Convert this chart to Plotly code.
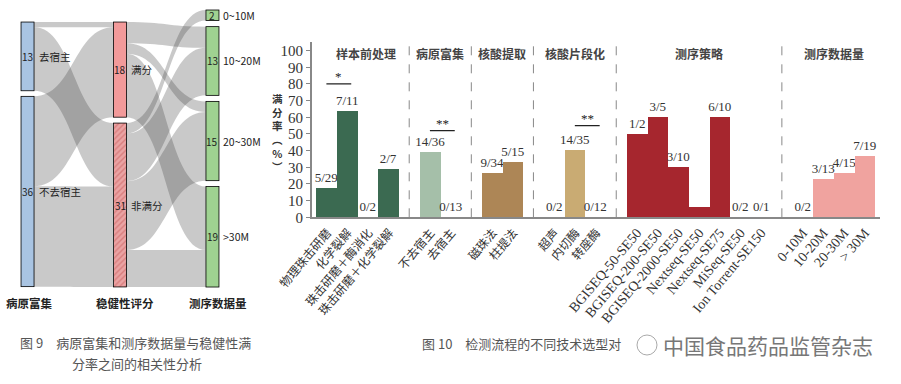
import plotly.graph_objects as go

W, H = 901, 384

# ---------------- Sankey data (Fig. 9) ----------------
sk_labels = ["去宿主", "不去宿主", "满分", "非满分", "0~10M", "10~20M", "20~30M", ">30M"]
sk_counts = [13, 36, 18, 31, 2, 13, 15, 19]
sk_source = [0, 0, 1, 1, 2, 2, 2, 3, 3, 3, 3]
sk_target = [2, 3, 2, 3, 5, 6, 7, 4, 5, 6, 7]
sk_value = [1, 12, 17, 19, 4, 2, 12, 2, 9, 13, 7]
sk_columns = ["病原富集", "稳健性评分", "测序数据量"]

# ---------------- Bar data (Fig. 10) ----------------
bar_groups = ["样本前处理", "病原富集", "核酸提取", "核酸片段化", "测序策略", "测序数据量"]
bar_cats = [
    ["物理珠击研磨", "化学裂解", "珠击研磨＋酶消化", "珠击研磨＋化学裂解"],
    ["不去宿主", "去宿主"],
    ["磁珠法", "柱提法"],
    ["超声", "内切酶", "转座酶"],
    ["BGISEQ-50-SE50", "BGISEQ-200-SE50", "BGISEQ-2000-SE50", "Nextseq-SE50",
     "Nextseq-SE75", "MiSeq-SE50", "Ion Torrent-SE150"],
    ["0-10M", "10-20M", "20-30M", "> 30M"],
]
bar_rates = [
    [17.2, 63.6, 0, 28.6],
    [38.9, 0],
    [26.5, 33.3],
    [0, 40.0, 0],
    [50, 60, 30, 6.3, 60, 0, 0],
    [0, 23.1, 26.7, 36.8],
]
bar_texts = [
    ["5/29", "7/11", "0/2", "2/7"],
    ["14/36", "0/13"],
    ["9/34", "5/15"],
    ["0/2", "14/35", "0/12"],
    ["1/2", "3/5", "3/10", "", "6/10", "0/2", "0/1"],
    ["0/2", "3/13", "4/15", "7/19"],
]
bar_colors = ["#3b6a51", "#a5bfa9", "#ad8656", "#c9ab73", "#a6262e", "#f0a39f"]
# significance: (group, bar a, bar b, level %, marker)
sig_marks = [(0, 0, 1, 80, "*"), (1, 0, 1, 52, "**"), (3, 1, 2, 55, "**")]

SERIF = "Liberation Serif, Noto Sans CJK SC, serif"
SANS = "Noto Sans CJK SC, sans-serif"

fig = go.Figure()

# ---------------- Sankey ----------------
sk_top, sk_bot, sk_left, sk_right = 10, 287, 21, 219
sk_dom_x = [sk_left / W, sk_right / W]
sk_dom_y = [1 - sk_bot / H, 1 - sk_top / H]
node_x = [0.033, 0.033, 0.5, 0.5, 0.967, 0.967, 0.967, 0.967]
node_y = [0.1675, 0.6552, 0.2152, 0.704, 0.0191, 0.1841, 0.473, 0.8188]
node_col = ["#a9c4e2", "#a9c4e2", "#f29a9a", "rgba(0,0,0,0)", "#9fd291", "#9fd291", "#9fd291", "#9fd291"]
node_line = ["#7f9fc4", "#7f9fc4", "#d07070", "#b85a5a", "#6fae62", "#6fae62", "#6fae62", "#6fae62"]
NODE_T = 13
NODE_PAD = 6

# hatched background for the "非满分" node (shows through its transparent fill)
ky = (sk_bot - sk_top - 3 * NODE_PAD) / sum(sk_counts[4:])
hn = 3
h_cx = sk_left + node_x[hn] * (sk_right - sk_left)
h_cy = sk_top + node_y[hn] * (sk_bot - sk_top)
h_half = sk_counts[hn] * ky / 2
fig.add_trace(go.Bar(
    x=[0], y=[1], width=1, xaxis="x2", yaxis="y2",
    marker=dict(color="#eaa3a3", line=dict(width=0),
                pattern=dict(shape="/", fgcolor="#c75a5a", bgcolor="#eaa3a3", size=4, solidity=0.35)),
    showlegend=False, hoverinfo="skip",
))

fig.add_trace(go.Sankey(
    domain=dict(x=sk_dom_x, y=sk_dom_y),
    arrangement="fixed",
    node=dict(label=[""] * len(sk_labels), x=node_x, y=node_y, pad=NODE_PAD, thickness=NODE_T,
              color=node_col, line=dict(color=node_line, width=0.8)),
    link=dict(source=sk_source, target=sk_target, value=sk_value,
              color="rgba(60,60,60,0.28)"),
    textfont=dict(size=1, color="rgba(0,0,0,0)"),
))

annotations = []
dw = sk_dom_x[1] - sk_dom_x[0]
dh = sk_dom_y[1] - sk_dom_y[0]
for i, (lab, cnt) in enumerate(zip(sk_labels, sk_counts)):
    cx = sk_dom_x[0] + node_x[i] * dw
    cy = sk_dom_y[1] - node_y[i] * dh
    annotations.append(dict(x=cx, y=cy, xref="paper", yref="paper", text=str(cnt),
                            showarrow=False, xanchor="center", yanchor="middle",
                            font=dict(family=SANS, size=10, color="#222")))
    annotations.append(dict(x=cx + 9 / W, y=cy, xref="paper", yref="paper", text=lab,
                            showarrow=False, xanchor="left", yanchor="middle",
                            font=dict(family=SANS, size=10.5, color="#222")))
for j, t in enumerate(sk_columns):
    annotations.append(dict(x=[4, 94, 187][j] / W, y=1 - 303 / H, xref="paper", yref="paper",
                            text="<b>" + t + "</b>", showarrow=False, xanchor="left",
                            yanchor="middle", font=dict(family=SANS, size=11.5, color="#222")))

# ---------------- Bars ----------------
group_pos = []
start = 0
for cats in bar_cats:
    group_pos.append([start + i for i in range(len(cats))])
    start += len(cats) + 1


def tick_label(s):
    # CJK labels are drawn a little smaller than the Latin ones
    if any("\u4e00" <= c <= "\u9fff" for c in s):
        return '<span style="font-size:12px">' + s + "</span>"
    return s


tickvals, ticktext = [], []
for g, cats in enumerate(bar_cats):
    fig.add_trace(go.Bar(
        x=group_pos[g], y=bar_rates[g], width=1.0,
        marker=dict(color=bar_colors[g], line=dict(width=0)),
        text=bar_texts[g], textposition="outside", constraintext="none",
        textfont=dict(family=SERIF, size=13, color="#333"),
        cliponaxis=False, showlegend=False, xaxis="x", yaxis="y",
    ))
    tickvals += group_pos[g]
    ticktext += [tick_label(c) for c in cats]

shapes = []
for g in range(len(bar_cats) - 1):
    xd = group_pos[g][-1] + 1
    shapes.append(dict(type="line", xref="x", yref="y", x0=xd, x1=xd, y0=0, y1=105,
                       line=dict(color="#888", width=1, dash="dash")))

for g, name in enumerate(bar_groups):
    xc = (group_pos[g][0] + group_pos[g][-1]) / 2
    if g == 0:
        xc += 0.4
    annotations.append(dict(x=xc, y=98, xref="x", yref="y", text="<b>" + name + "</b>",
                            showarrow=False, xanchor="center", yanchor="middle",
                            font=dict(family=SANS, size=12, color="#444")))

for g, a, b, lvl, mark in sig_marks:
    x0 = group_pos[g][a]
    x1 = group_pos[g][b] + 0.2
    shapes.append(dict(type="line", xref="x", yref="y", x0=x0, x1=x1, y0=lvl, y1=lvl,
                       line=dict(color="#222", width=1.2)))
    annotations.append(dict(x=(x0 + x1) / 2, y=lvl, xref="x", yref="y", text=mark,
                            showarrow=False, xanchor="center", yanchor="bottom", yshift=-2,
                            font=dict(family=SERIF, size=13, color="#222")))

# y-axis title (vertical, stacked characters)
annotations.append(dict(x=277 / W, y=1 - 132 / H, xref="paper", yref="paper",
                        text="<b>满<br>分<br>率<br>︵<br>%<br>︶</b>", showarrow=False,
                        xanchor="center", yanchor="middle", align="center",
                        font=dict(family=SANS, size=10.5, color="#333")))

# captions
cap_font = dict(family=SANS, size=13, color="#555")
annotations.append(dict(x=18 / W, y=1 - 342 / H, xref="paper", yref="paper",
                        text="图 9　病原富集和测序数据量与稳健性满", showarrow=False,
                        xanchor="left", yanchor="middle", font=cap_font))
annotations.append(dict(x=70 / W, y=1 - 363 / H, xref="paper", yref="paper",
                        text="分率之间的相关性分析", showarrow=False,
                        xanchor="left", yanchor="middle", font=cap_font))
annotations.append(dict(x=420 / W, y=1 - 343 / H, xref="paper", yref="paper",
                        text="图 10　检测流程的不同技术选型对", showarrow=False,
                        xanchor="left", yanchor="middle", font=cap_font))
annotations.append(dict(x=661 / W, y=1 - 345 / H, xref="paper", yref="paper",
                        text="中国食品药品监管杂志", showarrow=False,
                        xanchor="left", yanchor="middle",
                        font=dict(family=SANS, size=21, color="#777")))
shapes.append(dict(type="circle", xref="paper", yref="paper",
                   x0=637 / W, x1=657 / W, y0=1 - 355 / H, y1=1 - 335 / H,
                   line=dict(color="#aaa", width=1), fillcolor="rgba(255,255,255,0.6)"))

fig.update_layout(
    width=W, height=H,
    margin=dict(l=0, r=0, t=0, b=0),
    paper_bgcolor="white", plot_bgcolor="white",
    showlegend=False,
    bargap=0,
    xaxis=dict(domain=[311.7 / W, 880 / W], range=[-0.71, 26.74],
               tickvals=tickvals, ticktext=ticktext, tickangle=-50,
               tickfont=dict(family=SERIF, size=14, color="#333"),
               showline=True, linecolor="#888", linewidth=1.5, ticks="",
               showgrid=False, zeroline=False, automargin=False, fixedrange=True),
    yaxis=dict(domain=[1 - 217.3 / H, 1 - 42.3 / H], range=[0, 105],
               tickvals=list(range(0, 101, 10)),
               tickfont=dict(family=SERIF, size=15, color="#333"),
               showline=True, linecolor="#888", linewidth=1.5, ticks="outside",
               ticklen=4, tickcolor="#888", showgrid=False, zeroline=False,
               automargin=False, fixedrange=True),
    xaxis2=dict(domain=[(h_cx - NODE_T / 2) / W, (h_cx + NODE_T / 2) / W], range=[-0.5, 0.5],
                visible=False, fixedrange=True, anchor="y2"),
    yaxis2=dict(domain=[1 - (h_cy + h_half) / H, 1 - (h_cy - h_half) / H], range=[0, 1],
                visible=False, fixedrange=True, anchor="x2"),
    annotations=annotations,
    shapes=shapes,
)

fig.write_html("out.html", config={"displayModeBar": False},
               post_script="document.body.style.margin='0';document.body.style.padding='0';")
